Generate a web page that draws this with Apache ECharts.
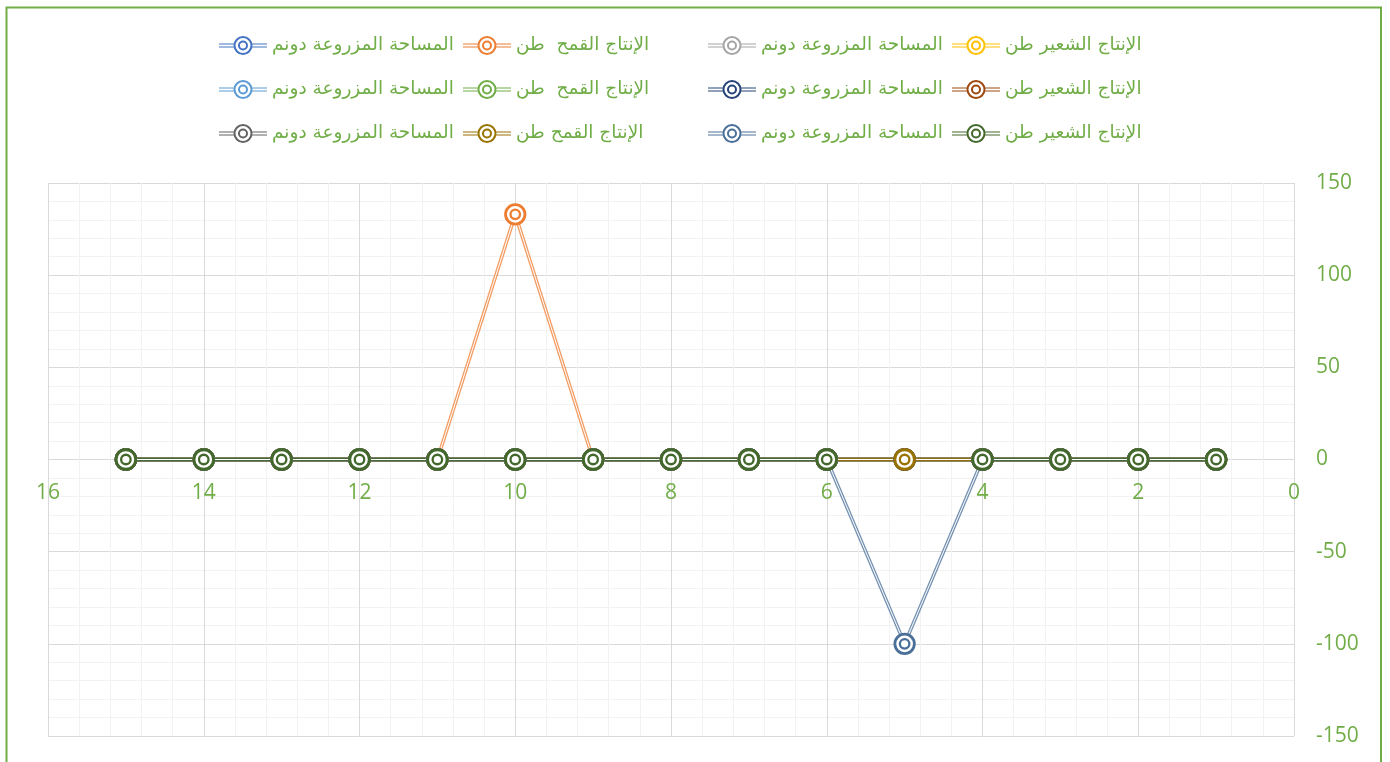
<!DOCTYPE html>
<html>
<head>
    <meta charset="utf-8">
    <title>chart</title>
    <script src="https://cdn.jsdelivr.net/npm/echarts@6/dist/echarts.min.js"></script>
    <style>
        html, body { margin: 0; padding: 0; background: #fff; }
        #main { width: 1390px; height: 762px; }
    </style>
</head>
<body>
<div id="main"></div>
<script type="text/javascript">
    // x positions of the points
    var xValues = [1, 2, 3, 4, 5, 6, 7, 8, 9, 10, 11, 12, 13, 14, 15];

    // series values (x = 1 .. 15)
    var s1 = [0, 0, 0, 0, 0, 0, 0, 0, 0, 0, 0, 0, 0, 0, 0];
    var s2 = [0, 0, 0, 0, 0, 0, 0, 0, 0, 133, 0, 0, 0, 0, 0];
    var s3 = [0, 0, 0, 0, 0, 0, 0, 0, 0, 0, 0, 0, 0, 0, 0];
    var s4 = [0, 0, 0, 0, 0, 0, 0, 0, 0, 0, 0, 0, 0, 0, 0];
    var s5 = [0, 0, 0, 0, 0, 0, 0, 0, 0, 0, 0, 0, 0, 0, 0];
    var s6 = [0, 0, 0, 0, 0, 0, 0, 0, 0, 0, 0, 0, 0, 0, 0];
    var s7 = [0, 0, 0, 0, 0, 0, 0, 0, 0, 0, 0, 0, 0, 0, 0];
    var s8 = [0, 0, 0, 0, 0, 0, 0, 0, 0, 0, 0, 0, 0, 0, 0];
    var s9 = [0, 0, 0, 0, 0, 0, 0, 0, 0, 0, 0, 0, 0, 0, 0];
    var s10 = [0, 0, 0, 0, 0, 0, 0, 0, 0, 0, 0, 0, 0, 0, 0];
    var s11 = [0, 0, 0, 0, -100, 0, 0, 0, 0, 0, 0, 0, 0, 0, 0];
    var s12 = [0, 0, 0, 0, null, 0, 0, 0, 0, 0, 0, 0, 0, 0, 0];
    var allSeries = [s1, s2, s3, s4, s5, s6, s7, s8, s9, s10, s11, s12];

    // legend texts
    var labels = [
        'المساحة المزروعة دونم', 'الإنتاج القمح  طن', 'المساحة المزروعة دونم', 'الإنتاج الشعير طن',
        'المساحة المزروعة دونم', 'الإنتاج القمح  طن', 'المساحة المزروعة دونم', 'الإنتاج الشعير طن',
        'المساحة المزروعة دونم', 'الإنتاج القمح طن', 'المساحة المزروعة دونم', 'الإنتاج الشعير طن'
    ];
    var colors = ['#4472C4', '#ED7D31', '#A5A5A5', '#FFC000', '#5B9BD5', '#70AD47',
                  '#264478', '#9E480E', '#636363', '#997300', '#4A7099', '#43682B'];

    var textGreen = '#70AD47';

    // legend icon: double line with double ring
    var iconPath = 'path://M0 8L15 8L15 9L0 9Z M0 11L15 11L15 12L0 12Z M33 8L48 8L48 9L33 9Z M33 11L48 11L48 12L33 12Z ' +
        'M24 0.5A9.5 9.5 0 1 1 24 19.5A9.5 9.5 0 1 1 24 0.5Z M24 2.5A7.5 7.5 0 1 0 24 17.5A7.5 7.5 0 1 0 24 2.5Z ' +
        'M24 5A5 5 0 1 1 24 15A5 5 0 1 1 24 5Z M24 7A3 3 0 1 0 24 13A3 3 0 1 0 24 7Z';

    var myChart = echarts.init(document.getElementById('main'));

    var series = [];
    for (var i = 0; i < allSeries.length; i++) {
        var pts = [];
        for (var j = 0; j < xValues.length; j++) {
            pts.push([xValues[j], allSeries[i][j]]);
        }
        // outer line + outer ring
        series.push({
            name: 's' + (i + 1),
            type: 'line',
            data: pts,
            symbol: 'circle',
            symbolSize: 19.5,
            lineStyle: { color: colors[i], width: 3.6, opacity: 0.75 },
            itemStyle: { color: '#fff', borderColor: colors[i], borderWidth: 2.8 },
            emphasis: { disabled: true }
        });
        // white centre line + inner ring
        series.push({
            name: 'inner' + (i + 1),
            type: 'line',
            data: pts,
            symbol: 'circle',
            symbolSize: 9.5,
            lineStyle: { color: '#fff', width: 1 },
            itemStyle: { color: '#fff', borderColor: colors[i], borderWidth: 2.3 },
            emphasis: { disabled: true }
        });
    }

    var colX = [214, 458, 703, 947];
    var legends = [];
    for (var c = 0; c < 4; c++) {
        var items = [];
        for (var r = 0; r < 3; r++) {
            var k = r * 4 + c;
            items.push({ name: 's' + (k + 1), icon: iconPath, itemStyle: { color: colors[k], borderWidth: 0 } });
        }
        legends.push({
            orient: 'vertical',
            left: colX[c],
            top: 31,
            itemWidth: 48,
            itemHeight: 19,
            itemGap: 25,
            itemTextGap: 8,
            selectedMode: false,
            itemStyle: { borderWidth: 0 },
            formatter: function (name) {
                return labels[parseInt(name.substring(1), 10) - 1];
            },
            textStyle: { color: textGreen, fontSize: 18.5, fontFamily: 'DejaVu Sans', lineHeight: 19 },
            data: items
        });
    }

    var option = {
        animation: false,
        legend: legends,
        grid: { left: 48, right: 96, top: 183, bottom: 26, containLabel: false, outerBoundsMode: 'none' },
        xAxis: {
            type: 'value',
            position: 'bottom',
            // labels sit on the zero line (plot height 553, half = 276.5)
            offset: -276.5,
            min: 0,
            max: 16,
            interval: 2,
            inverse: true,
            axisLine: { show: false, onZero: false },
            axisTick: { show: false },
            minorTick: { show: false, splitNumber: 5 },
            axisLabel: { color: textGreen, fontSize: 21, fontFamily: 'Open Sans', margin: 23 },
            splitLine: { show: true, lineStyle: { color: '#D9D9D9', width: 1 } },
            minorSplitLine: { show: true, lineStyle: { color: '#F2F2F2', width: 1 } }
        },
        yAxis: {
            type: 'value',
            position: 'right',
            min: -150,
            max: 150,
            interval: 50,
            axisLine: { show: false, onZero: false },
            axisTick: { show: false },
            minorTick: { show: false, splitNumber: 5 },
            axisLabel: { color: textGreen, fontSize: 21, fontFamily: 'Open Sans', margin: 22 },
            splitLine: { show: true, lineStyle: { color: '#D9D9D9', width: 1 } },
            minorSplitLine: { show: true, lineStyle: { color: '#F2F2F2', width: 1 } }
        },
        graphic: [{
            type: 'rect',
            shape: { x: 6.5, y: 7.5, width: 1374.5, height: 800 },
            style: { fill: 'none', stroke: '#70AD47', lineWidth: 2 },
            silent: true
        }],
        series: series
    };

    myChart.setOption(option);
</script>
</body>
</html>
